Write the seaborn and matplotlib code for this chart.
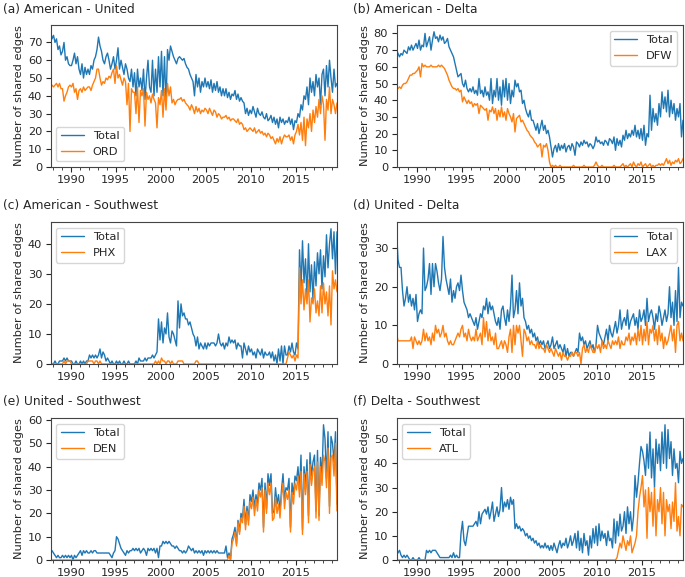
import matplotlib
matplotlib.use("Agg")
import matplotlib.pyplot as plt
from matplotlib.ticker import MultipleLocator
import numpy as np
import seaborn as sns

# --- DATA (one row per year, two-month steps) ---
start_year = 1987.75
step = 1 / 6

a_total = [
    76, 72,
    74, 70, 72, 66, 68, 63,   # 1988
    65, 70, 60, 62, 58, 57,   # 1989
    57, 60, 64, 58, 62, 55,   # 1990
    52, 58, 50, 56, 52, 55,   # 1991
    52, 57, 55, 60, 62, 66,   # 1992
    73, 68, 65, 60, 58, 62,   # 1993
    64, 60, 55, 58, 62, 55,   # 1994
    60, 67, 55, 60, 56, 52,   # 1995
    58, 55, 50, 48, 55, 45,   # 1996
    53, 40, 55, 45, 50, 43,   # 1997
    55, 38, 50, 60, 45, 42,   # 1998
    60, 40, 55, 42, 62, 45,   # 1999
    65, 40, 62, 35, 66, 60,   # 2000
    68, 65, 62, 60, 58, 61,   # 2001
    62, 61, 60, 61, 58, 56,   # 2002
    55, 52, 50, 48, 40, 52,   # 2003
    45, 50, 42, 48, 45, 50,   # 2004
    45, 48, 44, 49, 42, 47,   # 2005
    43, 48, 42, 45, 40, 44,   # 2006
    40, 44, 39, 42, 38, 41,   # 2007
    40, 43, 38, 41, 37, 39,   # 2008
    37, 36, 30, 33, 29, 32,   # 2009
    30, 34, 31, 28, 33, 30,   # 2010
    29, 31, 28, 27, 30, 26,   # 2011
    27, 29, 25, 28, 24, 27,   # 2012
    22, 28, 25, 27, 24, 26,   # 2013
    25, 28, 24, 27, 21, 26,   # 2014
    25, 30, 28, 35, 32, 40,   # 2015
    38, 45, 35, 50, 42, 48,   # 2016
    40, 52, 45, 50, 35, 52,   # 2017
    55, 40, 57, 45, 60, 50,   # 2018
    42, 55, 45, 47,           # 2019
]
a_ord = [
    45, 46,
    45, 46, 47, 45, 47, 44,   # 1988
    44, 37, 40, 42, 45, 46,   # 1989
    45, 47, 42, 44, 38, 43,   # 1990
    44, 42, 45, 43, 44, 45,   # 1991
    45, 43, 46, 48, 50, 55,   # 1992
    55, 50, 46, 48, 47, 50,   # 1993
    49, 51, 50, 53, 55, 47,   # 1994
    57, 50, 52, 49, 46, 50,   # 1995
    48, 35, 47, 20, 44, 42,   # 1996
    42, 30, 45, 25, 43, 40,   # 1997
    44, 23, 42, 38, 40, 36,   # 1998
    41, 38, 36, 22, 39, 35,   # 1999
    43, 28, 44, 32, 47, 40,   # 2000
    45, 36, 38, 35, 37, 38,   # 2001
    38, 39, 37, 38, 36, 35,   # 2002
    34, 32, 35, 33, 30, 34,   # 2003
    31, 33, 30, 32, 31, 33,   # 2004
    32, 30, 33, 31, 29, 32,   # 2005
    31, 28, 30, 29, 27, 28,   # 2006
    28, 29, 27, 28, 26, 27,   # 2007
    27, 26, 25, 27, 24, 25,   # 2008
    24, 21, 22, 20, 21, 22,   # 2009
    21, 20, 22, 19, 20, 21,   # 2010
    19, 20, 18, 19, 17, 19,   # 2011
    18, 16, 17, 15, 13, 16,   # 2012
    14, 17, 13, 16, 18, 17,   # 2013
    17, 18, 15, 17, 13, 18,   # 2014
    20, 24, 18, 25, 15, 28,   # 2015
    12, 27, 22, 30, 20, 32,   # 2016
    25, 34, 28, 38, 30, 40,   # 2017
    35, 15, 38, 32, 45, 30,   # 2018
    38, 35, 30, 36,           # 2019
]

b_total = [
    70, 68,
    66, 68, 67, 70, 69, 68,   # 1988
    72, 70, 73, 70, 72, 74,   # 1989
    71, 76, 70, 73, 72, 80,   # 1990
    72, 75, 78, 70, 76, 81,   # 1991
    77, 78, 75, 79, 76, 78,   # 1992
    74, 75, 77, 72, 70, 68,   # 1993
    66, 62, 58, 54, 55, 56,   # 1994
    50, 48, 52, 47, 45, 47,   # 1995
    45, 48, 44, 46, 43, 53,   # 1996
    44, 46, 42, 48, 43, 45,   # 1997
    40, 53, 38, 46, 42, 53,   # 1998
    40, 48, 37, 52, 42, 53,   # 1999
    40, 50, 38, 46, 42, 52,   # 2000
    48, 50, 45, 46, 38, 40,   # 2001
    35, 32, 30, 34, 28, 28,   # 2002
    25, 22, 26, 20, 24, 28,   # 2003
    22, 25, 20, 22, 18, 12,   # 2004
    6, 11, 13, 9, 14, 10,     # 2005
    13, 11, 14, 9, 12, 13,    # 2006
    10, 14, 12, 7, 15, 14,    # 2007
    12, 15, 13, 16, 14, 15,   # 2008
    12, 14, 13, 11, 13, 18,   # 2009
    15, 16, 14, 15, 13, 16,   # 2010
    15, 13, 17, 16, 14, 18,   # 2011
    10, 17, 13, 16, 12, 19,   # 2012
    16, 22, 17, 20, 18, 22,   # 2013
    19, 25, 18, 22, 17, 23,   # 2014
    16, 25, 13, 20, 18, 43,   # 2015
    22, 35, 27, 32, 25, 38,   # 2016
    30, 45, 35, 42, 33, 46,   # 2017
    30, 40, 32, 38, 28, 35,   # 2018
    30, 38, 18, 28,           # 2019
]
b_dfw = [
    48, 47,
    48, 47, 49, 50, 50, 51,   # 1988
    53, 55, 55, 56, 56, 57,   # 1989
    58, 60, 54, 62, 60, 61,   # 1990
    60, 60, 60, 61, 60, 60,   # 1991
    60, 60, 61, 60, 61, 60,   # 1992
    59, 57, 55, 52, 50, 48,   # 1993
    47, 47, 46, 47, 45, 46,   # 1994
    39, 42, 40, 38, 40, 38,   # 1995
    39, 36, 38, 37, 38, 32,   # 1996
    37, 36, 35, 34, 35, 28,   # 1997
    34, 33, 36, 32, 35, 28,   # 1998
    34, 30, 36, 30, 33, 28,   # 1999
    35, 32, 30, 27, 32, 21,   # 2000
    29, 30, 31, 27, 28, 26,   # 2001
    24, 22, 21, 19, 18, 17,   # 2002
    15, 14, 12, 13, 14, 6,    # 2003
    13, 12, 14, 10, 3, 0,     # 2004
    1, 0, 1, 0, 0, 1,         # 2005
    0, 0, 0, 0, 0, 0,         # 2006
    0, 0, 1, 0, 0, 0,         # 2007
    0, 0, 0, 1, 0, 0,         # 2008
    0, 0, 0, 0, 1, 3,         # 2009
    1, 0, 0, 1, 0, 0,         # 2010
    0, 0, 0, 0, 0, 1,         # 2011
    0, 0, 0, 0, 1, 2,         # 2012
    0, 1, 0, 1, 2, 0,         # 2013
    3, 1, 0, 2, 1, 3,         # 2014
    0, 1, 2, 0, 1, 2,         # 2015
    0, 1, 0, 1, 1, 2,         # 2016
    1, 2, 1, 3, 5, 2,         # 2017
    4, 1, 3, 2, 4, 3,         # 2018
    5, 2, 3, 5,               # 2019
]

c_total = [
    1, 0,
    0, 1, 0, 0, 1, 1,         # 1988
    1, 2, 1, 2, 1, 1,         # 1989
    1, 0, 0, 1, 0, 0,         # 1990
    1, 0, 1, 0, 1, 1,         # 1991
    3, 2, 3, 2, 3, 2,         # 1992
    3, 5, 2, 4, 3, 1,         # 1993
    2, 1, 0, 1, 0, 0,         # 1994
    1, 0, 1, 0, 0, 1,         # 1995
    0, 0, 1, 0, 0, 0,         # 1996
    0, 1, 0, 2, 1, 1,         # 1997
    1, 2, 1, 2, 2, 2,         # 1998
    3, 2, 3, 4, 15, 8,        # 1999
    14, 7, 12, 10, 17, 9,     # 2000
    7, 11, 10, 8, 6, 21,      # 2001
    12, 20, 16, 17, 15, 15,   # 2002
    13, 14, 12, 10, 9, 6,     # 2003
    9, 5, 7, 6, 5, 7,         # 2004
    5, 7, 6, 7, 7, 7,         # 2005
    6, 7, 10, 7, 6, 7,        # 2006
    5, 7, 6, 9, 7, 8,         # 2007
    7, 8, 5, 7, 6, 6,         # 2008
    2, 7, 5, 3, 6, 4,         # 2009
    5, 3, 4, 2, 5, 4,         # 2010
    3, 5, 2, 4, 3, 3,         # 2011
    4, 2, 4, 1, 3, 0,         # 2012
    5, 1, 6, 0, 6, 3,         # 2013
    3, 6, 4, 7, 4, 3,         # 2014
    7, 5, 38, 25, 41, 27,     # 2015
    35, 22, 40, 24, 33, 21,   # 2016
    34, 26, 37, 30, 38, 25,   # 2017
    36, 29, 43, 32, 40, 45,   # 2018
    35, 44, 30, 44,           # 2019
]
c_phx = [
    0, 0,
    0, 0, 0, 0, 0, 0,         # 1988
    0, 1, 0, 1, 1, 1,         # 1989
    0, 0, 0, 0, 0, 0,         # 1990
    0, 0, 0, 0, 0, 1,         # 1991
    1, 1, 1, 0, 1, 1,         # 1992
    0, 1, 0, 0, 0, 0,         # 1993
    0, 0, 0, 0, 0, 0,         # 1994
    0, 0, 0, 0, 0, 0,         # 1995
    0, 0, 0, 0, 0, 0,         # 1996
    0, 0, 0, 0, 0, 0,         # 1997
    0, 0, 0, 0, 0, 0,         # 1998
    0, 0, 1, 0, 1, 0,         # 1999
    2, 1, 1, 0, 1, 1,         # 2000
    0, 1, 0, 0, 0, 1,         # 2001
    1, 1, 1, 0, 0, 0,         # 2002
    0, 0, 0, 0, 0, 1,         # 2003
    1, 0, 0, 0, 0, 0,         # 2004
    0, 0, 0, 0, 0, 0,         # 2005
    0, 0, 0, 0, 0, 0,         # 2006
    0, 0, 0, 0, 0, 0,         # 2007
    0, 0, 0, 0, 0, 0,         # 2008
    0, 0, 0, 0, 0, 0,         # 2009
    0, 0, 0, 0, 0, 0,         # 2010
    0, 0, 0, 0, 0, 0,         # 2011
    0, 0, 0, 0, 0, 0,         # 2012
    0, 0, 0, 0, 0, 0,         # 2013
    2, 4, 3, 2, 3, 1,         # 2014
    3, 2, 32, 20, 28, 18,     # 2015
    25, 20, 28, 14, 22, 20,   # 2016
    25, 17, 21, 16, 26, 17,   # 2017
    27, 20, 24, 16, 26, 13,   # 2018
    31, 25, 28, 24,           # 2019
]

d_total = [
    35, 27,
    25, 25, 19, 15, 17, 20,   # 1988
    16, 18, 15, 17, 14, 18,   # 1989
    11, 13, 14, 13, 30, 19,   # 1990
    20, 22, 26, 18, 26, 20,   # 1991
    26, 24, 21, 19, 22, 33,   # 1992
    25, 22, 20, 18, 22, 16,   # 1993
    19, 17, 20, 21, 19, 23,   # 1994
    19, 16, 15, 14, 12, 13,   # 1995
    12, 11, 10, 12, 9, 11,    # 1996
    13, 12, 15, 14, 17, 13,   # 1997
    16, 14, 15, 13, 11, 10,   # 1998
    12, 9, 14, 15, 12, 10,    # 1999
    14, 11, 15, 23, 12, 14,   # 2000
    19, 13, 21, 15, 17, 12,   # 2001
    11, 9, 10, 8, 9, 7,       # 2002
    8, 6, 7, 5, 6, 5,         # 2003
    6, 4, 5, 6, 4, 5,         # 2004
    7, 4, 5, 6, 4, 5,         # 2005
    4, 3, 5, 2, 4, 2,         # 2006
    3, 3, 2, 3, 4, 3,         # 2007
    8, 6, 7, 5, 6, 4,         # 2008
    5, 6, 4, 5, 3, 5,         # 2009
    10, 8, 7, 6, 5, 7,        # 2010
    9, 6, 10, 8, 7, 9,        # 2011
    11, 8, 10, 14, 9, 11,     # 2012
    12, 10, 14, 9, 11, 12,    # 2013
    13, 10, 12, 9, 14, 11,    # 2014
    12, 14, 10, 17, 11, 13,   # 2015
    14, 12, 9, 13, 11, 15,    # 2016
    13, 10, 12, 14, 11, 13,   # 2017
    20, 12, 16, 10, 19, 11,   # 2018
    25, 12, 16, 15,           # 2019
]
d_lax = [
    8, 6,
    6, 6, 6, 6, 6, 6,         # 1988
    6, 6, 7, 4, 7, 6,         # 1989
    5, 6, 5, 6, 9, 6,         # 1990
    8, 6, 7, 5, 8, 6,         # 1991
    10, 8, 9, 7, 8, 10,       # 1992
    7, 8, 6, 5, 6, 5,         # 1993
    5, 6, 7, 8, 7, 9,         # 1994
    10, 7, 8, 6, 9, 7,        # 1995
    6, 7, 6, 9, 6, 7,         # 1996
    8, 5, 12, 7, 11, 6,       # 1997
    9, 6, 7, 5, 8, 4,         # 1998
    4, 5, 6, 4, 6, 5,         # 1999
    3, 7, 9, 3, 10, 5,        # 2000
    10, 8, 10, 6, 2, 9,       # 2001
    8, 6, 7, 5, 6, 5,         # 2002
    5, 4, 6, 4, 5, 4,         # 2003
    4, 3, 5, 4, 3, 4,         # 2004
    3, 2, 4, 3, 2, 3,         # 2005
    1, 3, 2, 2, 1, 2,         # 2006
    2, 3, 2, 3, 3, 2,         # 2007
    3, 0, 4, 5, 3, 4,         # 2008
    3, 5, 4, 3, 3, 5,         # 2009
    4, 5, 3, 6, 4, 5,         # 2010
    4, 6, 5, 4, 6, 5,         # 2011
    6, 5, 7, 4, 6, 5,         # 2012
    5, 7, 6, 8, 5, 7,         # 2013
    6, 8, 5, 9, 6, 10,        # 2014
    5, 9, 6, 11, 5, 9,        # 2015
    8, 10, 6, 9, 5, 10,       # 2016
    6, 8, 4, 7, 5, 6,         # 2017
    8, 10, 6, 9, 3, 10,       # 2018
    11, 6, 8, 6,              # 2019
]

e_total = [
    4, 4,
    3, 2, 1, 2, 1, 1,         # 1988
    2, 1, 2, 1, 2, 1,         # 1989
    2, 0, 2, 1, 2, 3,         # 1990
    4, 2, 4, 3, 4, 3,         # 1991
    3, 4, 3, 4, 4, 3,         # 1992
    3, 3, 3, 3, 3, 3,         # 1993
    3, 3, 2, 1, 3, 4,         # 1994
    10, 9, 7, 5, 4, 3,        # 1995
    2, 4, 3, 4, 4, 5,         # 1996
    4, 5, 4, 5, 3, 4,         # 1997
    5, 4, 2, 5, 4, 5,         # 1998
    4, 5, 3, 5, 1, 6,         # 1999
    6, 8, 7, 8, 7, 8,         # 2000
    7, 6, 6, 5, 6, 5,         # 2001
    4, 4, 3, 4, 3, 4,         # 2002
    6, 5, 4, 5, 3, 4,         # 2003
    3, 4, 3, 4, 2, 4,         # 2004
    3, 4, 3, 4, 3, 4,         # 2005
    3, 4, 3, 3, 3, 3,         # 2006
    3, 6, 1, 3, 0, 9,         # 2007
    11, 14, 7, 17, 12, 20,    # 2008
    18, 26, 15, 23, 17, 28,   # 2009
    25, 30, 22, 28, 24, 33,   # 2010
    30, 35, 14, 33, 22, 37,   # 2011
    32, 37, 20, 21, 31, 24,   # 2012
    28, 21, 30, 37, 26, 31,   # 2013
    30, 35, 14, 33, 28, 36,   # 2014
    34, 40, 30, 45, 13, 40,   # 2015
    32, 43, 19, 46, 36, 42,   # 2016
    45, 21, 47, 19, 44, 36,   # 2017
    58, 52, 35, 55, 23, 53,   # 2018
    50, 42, 55, 24,           # 2019
]
e_den = [
    0, 0,
    0, 0, 0, 0, 0, 0,         # 1988
    0, 0, 0, 0, 0, 0,         # 1989
    0, 0, 0, 0, 0, 0,         # 1990
    0, 0, 0, 0, 0, 0,         # 1991
    0, 0, 0, 0, 0, 0,         # 1992
    0, 0, 0, 0, 0, 0,         # 1993
    0, 0, 0, 0, 0, 0,         # 1994
    0, 0, 0, 0, 0, 0,         # 1995
    0, 0, 0, 0, 0, 0,         # 1996
    0, 0, 0, 0, 0, 0,         # 1997
    0, 0, 0, 0, 0, 0,         # 1998
    0, 0, 0, 0, 0, 0,         # 1999
    0, 0, 0, 0, 0, 0,         # 2000
    0, 0, 0, 0, 0, 0,         # 2001
    0, 0, 0, 0, 0, 0,         # 2002
    0, 0, 0, 0, 0, 0,         # 2003
    0, 0, 0, 0, 0, 0,         # 2004
    0, 0, 0, 0, 0, 0,         # 2005
    0, 0, 0, 0, 0, 0,         # 2006
    0, 0, 0, 2, 0, 7,         # 2007
    9, 12, 6, 16, 11, 18,     # 2008
    16, 23, 13, 21, 15, 25,   # 2009
    22, 27, 19, 26, 21, 30,   # 2010
    27, 31, 12, 30, 20, 33,   # 2011
    28, 33, 17, 18, 27, 20,   # 2012
    24, 18, 27, 33, 22, 29,   # 2013
    26, 30, 12, 29, 24, 33,   # 2014
    30, 36, 27, 38, 11, 37,   # 2015
    28, 38, 16, 41, 32, 38,   # 2016
    40, 18, 42, 17, 40, 32,   # 2017
    45, 42, 31, 48, 20, 44,   # 2018
    45, 36, 50, 21,           # 2019
]

f_total = [
    2, 3,
    4, 2, 1, 2, 1, 2,         # 1988
    1, 0, 0, 1, 0, 0,         # 1989
    0, 1, 0, 0, 0, 0,         # 1990
    4, 3, 4, 3, 4, 4,         # 1991
    4, 3, 2, 1, 1, 1,         # 1992
    1, 1, 1, 1, 2, 1,         # 1993
    3, 1, 2, 1, 1, 11,        # 1994
    16, 8, 6, 10, 14, 14,     # 1995
    14, 14, 15, 16, 14, 20,   # 1996
    15, 19, 20, 21, 19, 22,   # 1997
    17, 20, 24, 16, 19, 22,   # 1998
    18, 21, 30, 20, 24, 22,   # 1999
    25, 21, 26, 23, 25, 13,   # 2000
    15, 13, 14, 12, 13, 12,   # 2001
    10, 11, 9, 10, 8, 9,      # 2002
    7, 8, 6, 7, 5, 6,         # 2003
    5, 7, 5, 6, 4, 6,         # 2004
    4, 7, 5, 3, 6, 8,         # 2005
    5, 7, 6, 9, 5, 7,         # 2006
    10, 6, 8, 11, 5, 12,      # 2007
    4, 9, 3, 11, 6, 8,        # 2008
    2, 10, 5, 13, 7, 14,      # 2009
    6, 15, 8, 12, 9, 11,      # 2010
    6, 12, 8, 9, 5, 17,       # 2011
    7, 16, 10, 19, 12, 14,    # 2012
    20, 11, 22, 15, 20, 12,   # 2013
    18, 35, 26, 32, 40, 47,   # 2014
    45, 41, 35, 48, 38, 53,   # 2015
    34, 46, 30, 50, 40, 48,   # 2016
    37, 53, 40, 56, 38, 54,   # 2017
    42, 49, 35, 46, 38, 40,   # 2018
    32, 45, 40, 42,           # 2019
]
f_atl = [
    0, 0,
    0, 0, 0, 0, 0, 0,         # 1988
    0, 0, 0, 0, 0, 0,         # 1989
    0, 0, 0, 0, 0, 0,         # 1990
    0, 0, 0, 0, 0, 0,         # 1991
    0, 0, 0, 0, 0, 0,         # 1992
    0, 0, 0, 0, 0, 0,         # 1993
    0, 0, 0, 0, 0, 0,         # 1994
    0, 0, 0, 0, 0, 0,         # 1995
    0, 0, 0, 0, 0, 0,         # 1996
    0, 0, 0, 0, 0, 0,         # 1997
    0, 0, 0, 0, 0, 0,         # 1998
    0, 0, 0, 0, 0, 0,         # 1999
    0, 0, 0, 0, 0, 0,         # 2000
    0, 0, 0, 0, 0, 0,         # 2001
    0, 0, 0, 0, 0, 0,         # 2002
    0, 0, 0, 0, 0, 0,         # 2003
    0, 0, 0, 0, 0, 0,         # 2004
    0, 0, 0, 0, 0, 0,         # 2005
    0, 0, 0, 0, 0, 0,         # 2006
    0, 0, 0, 0, 0, 0,         # 2007
    0, 0, 0, 0, 0, 0,         # 2008
    0, 0, 0, 0, 0, 0,         # 2009
    0, 0, 0, 0, 0, 0,         # 2010
    0, 0, 0, 0, 0, 0,         # 2011
    0, 1, 4, 7, 5, 10,        # 2012
    7, 4, 8, 6, 10, 3,        # 2013
    5, 7, 10, 20, 26, 30,     # 2014
    35, 22, 29, 9, 30, 20,    # 2015
    28, 14, 30, 10, 25, 20,   # 2016
    30, 15, 28, 10, 25, 20,   # 2017
    23, 13, 24, 16, 32, 12,   # 2018
    18, 10, 23, 22,           # 2019
]

titles = ["(a) American - United", "(b) American - Delta", "(c) American - Southwest",
          "(d) United - Delta", "(e) United - Southwest", "(f) Delta - Southwest"]
hubs = ["ORD", "DFW", "PHX", "LAX", "DEN", "ATL"]
totals = [a_total, b_total, c_total, d_total, e_total, f_total]
hub_series = [a_ord, b_dfw, c_phx, d_lax, e_den, f_atl]
legend_locs = ["lower left", "upper right", "upper left", "upper right", "upper left", "upper left"]

# --- STYLE ---
sns.set_style("ticks")
plt.rcParams["font.family"] = ["DejaVu Sans"]
plt.rcParams["font.size"] = 8.2

fig = plt.figure(figsize=(6.85, 5.77), dpi=100)
W, H = 685, 577
col_left = [50.5, 396.5]
row_top = [25, 222, 418]
ax_w, ax_h = 286.5, 142

for i in range(6):
    r, c = divmod(i, 2)
    total = np.array(totals[i])
    hub = np.array(hub_series[i])
    assert len(total) == len(hub) == 192, (i, len(total), len(hub))
    x = start_year + np.arange(len(total)) * step

    ax = fig.add_axes([col_left[c] / W, 1 - (row_top[r] + ax_h) / H, ax_w / W, ax_h / H])
    sns.lineplot(x=x, y=total, ax=ax, color="#1f77b4", lw=1.0, label="Total", estimator=None)
    sns.lineplot(x=x, y=hub, ax=ax, color="#ff7f0e", lw=1.0, label=hubs[i], estimator=None)

    ax.set_xlim(x[0], x[-1])
    ax.set_ylim(0, max(total.max(), hub.max()) * 1.05)
    ax.xaxis.set_major_locator(MultipleLocator(5))
    ax.xaxis.set_minor_locator(MultipleLocator(1))
    ax.yaxis.set_major_locator(MultipleLocator(10))
    ax.tick_params(labelsize=8.2, length=3.5, width=0.8, pad=2.5)
    ax.tick_params(which="minor", length=2, width=0.6)
    ax.set_ylabel("Number of shared edges", fontsize=8.2, labelpad=3)
    ax.set_xlabel("")
    for s in ax.spines.values():
        s.set_linewidth(0.8)
        s.set_color("#444444")
    ax.legend(loc=legend_locs[i], fontsize=8.2, handlelength=2.0)

    title_x = 3 if c == 0 else 353
    title_base = [12.7, 208.5, 405][r]
    fig.text(title_x / W, 1 - title_base / H, titles[i], fontsize=8.8, va="baseline", ha="left")

fig.savefig("out.png", dpi=100)
